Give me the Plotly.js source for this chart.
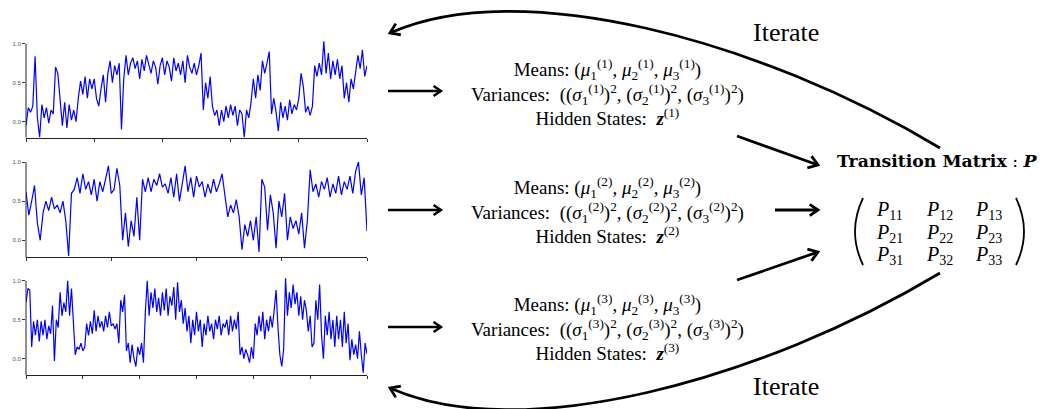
<!DOCTYPE html>
<html>
<head>
<meta charset="utf-8">
<script src="https://cdn.plot.ly/plotly-3.0.1.min.js"></script>
<style>html,body{margin:0;padding:0;background:#fff;}#chart{width:1044px;height:409px;}</style>
</head>
<body>
<div id="chart"></div>
<script>
// ---- data ----
const series1 = [-0.05,0.18,0.12,0.2,0.84,0.05,-0.2,0.22,0.05,0.18,-0.02,0.15,0.1,0.7,0.62,0.28,-0.05,0.25,-0.08,0.22,
0.02,0.15,0.0,0.3,0.52,0.35,0.58,0.3,0.55,0.42,0.55,0.3,0.2,0.42,0.6,0.25,0.62,0.78,0.5,0.72,
0.6,0.75,-0.1,0.55,0.85,0.6,0.75,0.82,0.68,0.78,0.55,0.8,0.65,0.85,0.72,0.62,0.78,0.7,0.48,0.72,
0.82,0.6,0.78,0.7,0.52,0.82,0.65,0.75,0.6,0.78,0.5,0.85,0.7,0.62,0.75,0.6,0.72,0.88,0.15,0.5,
0.3,0.58,0.2,0.08,0.15,-0.05,0.15,0.0,0.2,0.05,0.22,0.08,0.2,-0.05,0.15,0.1,-0.2,0.15,0.05,0.25,
0.55,0.3,0.6,0.4,0.78,0.62,0.75,0.9,0.1,0.3,0.12,-0.12,0.25,0.05,0.2,0.02,0.28,0.1,0.22,0.15,
0.3,0.62,0.45,0.12,0.2,0.08,0.2,0.72,0.58,0.75,0.6,1.03,0.62,0.88,0.55,0.78,0.6,0.8,0.55,0.72,
0.3,0.5,0.25,0.55,0.42,0.65,0.85,0.68,0.92,0.58,0.72];
const series2 = [0.62,0.32,0.5,0.7,0.22,0.0,0.35,0.5,0.38,0.55,0.4,0.45,0.35,0.5,0.25,-0.2,0.6,0.65,0.8,0.6,
0.85,0.65,0.75,0.58,0.78,0.5,0.75,0.62,0.78,0.95,0.6,0.65,0.92,0.7,0.0,0.35,-0.08,0.25,0.05,0.55,
0.0,0.78,0.62,0.8,0.62,0.78,0.7,0.85,0.68,0.72,0.6,0.8,0.55,0.85,0.5,0.75,0.95,0.62,0.8,0.55,
0.82,0.68,0.75,0.55,0.72,0.6,0.78,0.62,0.72,0.85,0.55,0.3,0.45,0.35,0.52,0.3,-0.12,0.2,0.05,0.25,
0.0,0.3,-0.15,0.78,0.68,0.13,0.58,0.35,-0.1,0.5,0.3,0.6,0.0,0.3,0.15,0.25,0.08,0.35,-0.1,0.25,
0.9,0.62,0.72,0.55,0.75,0.65,0.8,0.55,0.72,0.6,0.82,0.58,0.75,0.65,0.82,0.6,0.88,1.0,0.58,0.8,0.12];
const series3 = [0.72,0.9,0.88,0.15,0.48,0.3,0.5,0.22,0.48,0.3,0.5,0.25,0.42,0.32,0.68,-0.03,0.5,0.4,0.85,0.55,
0.72,0.6,1.0,0.55,0.9,0.45,0.05,0.15,0.12,0.2,0.1,0.15,0.45,0.3,0.48,0.32,0.62,0.35,0.55,0.4,
0.48,0.35,0.55,0.4,0.6,0.42,0.45,0.38,0.45,0.2,0.75,0.6,0.82,0.1,0.2,-0.05,0.18,0.0,-0.1,0.15,
0.05,0.2,-0.05,0.6,1.0,0.55,0.85,0.65,0.9,0.6,0.78,0.55,0.85,0.62,0.9,0.55,0.8,0.68,0.92,0.5,
0.98,0.6,0.75,0.45,0.65,0.35,0.55,0.2,0.5,0.3,0.6,0.35,0.5,0.15,0.45,0.3,0.55,0.35,0.45,0.25,
0.5,0.38,0.55,0.3,0.45,0.4,0.5,0.3,0.55,0.35,0.5,0.38,0.6,0.05,0.15,0.0,0.12,0.05,-0.05,0.15,
0.0,0.45,0.3,0.55,0.35,0.6,0.25,0.5,0.35,0.55,0.4,0.62,0.88,0.4,0.05,-0.1,0.12,1.03,0.55,0.85,
0.65,0.95,0.7,0.85,0.55,0.8,0.5,0.75,0.62,0.35,0.55,0.15,0.2,0.75,0.5,0.95,0.3,0.0,0.55,0.3,
0.6,0.25,0.5,0.15,0.55,0.25,0.5,0.15,0.6,0.2,0.45,-0.02,0.25,0.05,0.18,0.0,0.35,0.05,-0.18,0.2,0.06];
const yTickVals = [0, 0.5, 1.0];
const yTickText = ['0.0', '0.5', '1.0'];
const xTickStep = 30;
const modelIds = [1, 2, 3];
const matrixLabels = [['11','12','13'],['21','22','23'],['31','32','33']];

// ---- layout helpers ----
const W = 1044, H = 409;
const fx = x => x / W;
const fy = y => 1 - y / H;
const pt = (x, y) => fx(x).toFixed(5) + ',' + fy(y).toFixed(5);
const SERIF = 'Liberation Serif, Times New Roman, serif';

const allSeries = [series1, series2, series3];
const pxBox = [
  {top: 38, bot: 137.7, zero: 121.7, scale: 78},
  {top: 158, bot: 257, zero: 240.3, scale: 78.3},
  {top: 275, bot: 375.3, zero: 358.7, scale: 78}
];

const traces = [];
const layout = {
  width: W, height: H,
  margin: {l: 0, r: 0, t: 0, b: 0},
  paper_bgcolor: '#fff', plot_bgcolor: '#fff',
  showlegend: false,
  shapes: [], annotations: []
};

allSeries.forEach((s, k) => {
  const n = k + 1;
  const xs = s.map((_, i) => i);
  const sfx = n === 1 ? '' : String(n);
  traces.push({x: xs, y: s, type: 'scatter', mode: 'lines',
    xaxis: 'x' + sfx, yaxis: 'y' + sfx,
    line: {color: '#0000ff', width: 1.2}, hoverinfo: 'skip'});
  const b = pxBox[k];
  const yMin = -(b.bot - b.zero) / b.scale;
  const yMax = (b.zero - b.top) / b.scale;
  const ticks = [];
  for (let t = 0; t <= s.length - 1; t += xTickStep) ticks.push(t);
  layout['xaxis' + sfx] = {
    domain: [fx(26), fx(367)], range: [0, s.length - 1], anchor: 'y' + sfx,
    tickvals: ticks, showticklabels: false, ticks: 'outside', ticklen: 3,
    tickcolor: '#333', tickwidth: 1, showline: true, linecolor: '#222', linewidth: 1,
    showgrid: false, zeroline: false, fixedrange: true
  };
  layout['yaxis' + sfx] = {
    domain: [fy(b.bot), fy(b.top)], range: [yMin, yMax], anchor: 'x' + sfx,
    tickvals: yTickVals, ticktext: yTickText, ticks: 'outside', ticklen: 3,
    tickcolor: '#333', tickwidth: 1, showline: false, showgrid: false, zeroline: false,
    tickfont: {family: 'Liberation Sans, Arial, sans-serif', size: 6, color: '#555'},
    fixedrange: true
  };
  layout.shapes.push({type: 'line', xref: 'x' + sfx + ' domain', yref: 'y' + sfx,
    x0: 0, x1: 0, y0: yMin, y1: 1.0, line: {color: '#222', width: 1}});
});

// ---- arrows ----
function head(tx, ty, dx, dy, len, ang, w) {
  const L = Math.hypot(dx, dy); dx /= L; dy /= L;
  const rot = (a) => [dx * Math.cos(a) - dy * Math.sin(a), dx * Math.sin(a) + dy * Math.cos(a)];
  const [ax, ay] = rot(ang), [bx, by] = rot(-ang);
  const p = 'M' + pt(tx - len * ax, ty - len * ay) + ' L' + pt(tx, ty) + ' L' + pt(tx - len * bx, ty - len * by);
  layout.shapes.push({type: 'path', xref: 'paper', yref: 'paper', path: p,
    line: {color: '#000', width: w}});
}
function straightArrow(x0, y0, x1, y1, w, len) {
  layout.shapes.push({type: 'path', xref: 'paper', yref: 'paper',
    path: 'M' + pt(x0, y0) + ' L' + pt(x1, y1), line: {color: '#000', width: w}});
  head(x1, y1, x1 - x0, y1 - y0, len, 0.6, w);
}
function curveArrow(p0, p1, p2, p3, w) {
  layout.shapes.push({type: 'path', xref: 'paper', yref: 'paper',
    path: 'M' + pt(...p0) + ' C' + pt(...p1) + ' ' + pt(...p2) + ' ' + pt(...p3),
    line: {color: '#000', width: w}});
  head(p3[0], p3[1], p3[0] - p2[0], p3[1] - p2[1], 11, 0.6, w);
}

[91, 210, 327].forEach(y => straightArrow(388, y, 441, y, 2.4, 9));
straightArrow(775, 210, 818, 210, 2.8, 10);
straightArrow(737, 136, 818, 165, 2.8, 11);
straightArrow(737, 280, 818, 252, 2.8, 11);
curveArrow([940, 148], [760, 40], [520, -25], [390, 33], 2.8);
curveArrow([940, 273], [760, 381], [520, 446], [390, 388], 2.8);

// matrix parentheses
layout.shapes.push({type: 'path', xref: 'paper', yref: 'paper',
  path: 'M' + pt(863, 198) + ' Q' + pt(847, 231.5) + ' ' + pt(863, 265), line: {color: '#000', width: 1.8}});
layout.shapes.push({type: 'path', xref: 'paper', yref: 'paper',
  path: 'M' + pt(1016, 198) + ' Q' + pt(1032, 231.5) + ' ' + pt(1016, 265), line: {color: '#000', width: 1.8}});

// ---- text ----
function txt(x, y, text, size, family) {
  layout.annotations.push({xref: 'paper', yref: 'paper', x: fx(x), y: fy(y),
    text: text, showarrow: false, xanchor: 'center', yanchor: 'middle', align: 'center',
    font: {family: family || SERIF, size: size, color: '#000'}});
}
const blockMidY = [92, 210, 327];
modelIds.forEach((k, i) => {
  const means = `Means: (<i>μ</i><sub>1</sub><sup>(${k})</sup>, <i>μ</i><sub>2</sub><sup>(${k})</sup>, <i>μ</i><sub>3</sub><sup>(${k})</sup>)`;
  const vars = `Variances:&nbsp; ((<i>σ</i><sub>1</sub><sup>(${k})</sup>)<sup>2</sup>, (<i>σ</i><sub>2</sub><sup>(${k})</sup>)<sup>2</sup>, (<i>σ</i><sub>3</sub><sup>(${k})</sup>)<sup>2</sup>)`;
  const hid = `Hidden States:&nbsp; <b><i>z</i></b><sup>(${k})</sup>`;
  txt(607, blockMidY[i], means + '<br>' + vars + '<br>' + hid, 19);
});
txt(937, 161, '<b>Transition Matrix</b> : <b><i>P</i></b>', 17.3, 'DejaVu Serif, serif');
const colX = [889, 939, 988], rowY = [210, 233, 255];
matrixLabels.forEach((row, r) => row.forEach((lab, c) => {
  txt(colX[c], rowY[r], `<i>P</i><sub>${lab}</sub>`, 20);
}));
txt(786, 32, 'Iterate', 26);
txt(786, 386, 'Iterate', 26);

Plotly.newPlot('chart', traces, layout, {staticPlot: true, displayModeBar: false});
</script>
</body>
</html>
